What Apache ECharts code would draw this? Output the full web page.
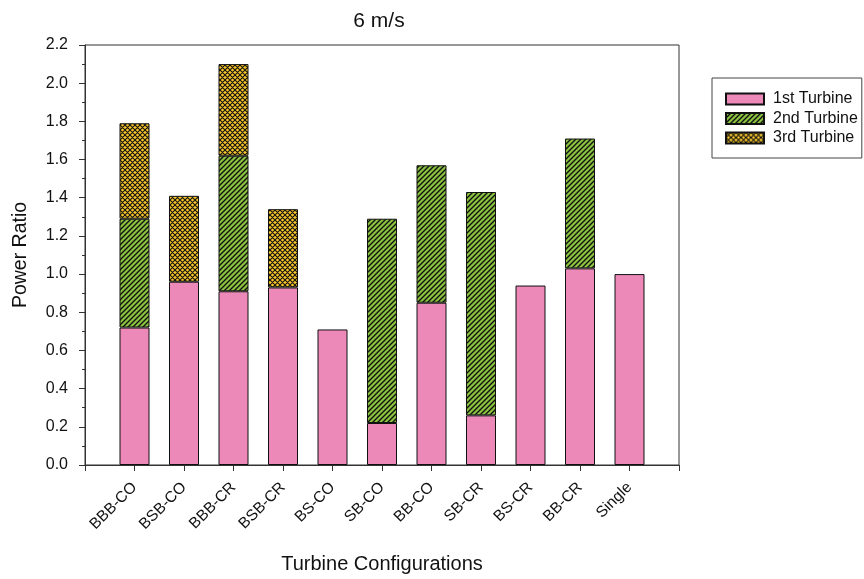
<!DOCTYPE html>
<html>
<head>
<meta charset="utf-8">
<script src="https://cdn.jsdelivr.net/npm/echarts@6/dist/echarts.min.js"></script>
<style>
html,body{margin:0;padding:0;background:#fff;}
#main{width:864px;height:579px;}
</style>
</head>
<body>
<div id="main"></div>
<script>
// ---- data ----
var categories = ['BBB-CO','BSB-CO','BBB-CR','BSB-CR','BS-CO','SB-CO','BB-CO','SB-CR','BS-CR','BB-CR','Single'];
var firstTurbine  = [0.72, 0.96, 0.91, 0.93, 0.71, 0.22, 0.85, 0.26, 0.94, 1.03, 1.00];
var secondTurbine = [0.57, null, 0.71, null, null, 1.07, 0.72, 1.17, null, 0.68, null];
var thirdTurbine  = [0.50, 0.45, 0.48, 0.41, null, null, null, null, null, null, null];
var yTicks = [0.0, 0.2, 0.4, 0.6, 0.8, 1.0, 1.2, 1.4, 1.6, 1.8, 2.0, 2.2];
var seriesNames = ['1st Turbine', '2nd Turbine', '3rd Turbine'];

// pad with empty slots at both ends (axis spans one slot beyond first/last bar)
function pad(arr){ return [null].concat(arr).concat([null]); }
var xCats = [''].concat(categories).concat(['']);

function hatchPattern(){
  var s = 5, c = document.createElement('canvas');
  c.width = s; c.height = s;
  var g = c.getContext('2d');
  g.fillStyle = '#8cc43f'; g.fillRect(0,0,s,s);
  g.strokeStyle = '#111'; g.lineWidth = 1.4;
  g.beginPath();
  g.moveTo(-1, s+1); g.lineTo(s+1, -1);
  g.moveTo(-1, 1); g.lineTo(1, -1);
  g.moveTo(s-1, s+1); g.lineTo(s+1, s-1);
  g.stroke();
  return c;
}
function crossPattern(){
  var s = 5, c = document.createElement('canvas');
  c.width = s; c.height = s;
  var g = c.getContext('2d');
  g.fillStyle = '#f9c62a'; g.fillRect(0,0,s,s);
  g.strokeStyle = '#111'; g.lineWidth = 1.1;
  g.beginPath();
  g.moveTo(-1, s+1); g.lineTo(s+1, -1);
  g.moveTo(-1, -1); g.lineTo(s+1, s+1);
  g.moveTo(-1, 1); g.lineTo(1, -1);
  g.moveTo(s-1, s+1); g.lineTo(s+1, s-1);
  g.moveTo(s-1, -1); g.lineTo(s+1, 1);
  g.moveTo(-1, s-1); g.lineTo(1, s+1);
  g.stroke();
  return c;
}

var FONT = '"Liberation Sans", Arial, sans-serif';
var chart = echarts.init(document.getElementById('main'), null, {renderer:'canvas'});
var barStyle = function(color){ return {color: color, borderColor:'#111', borderWidth:1}; };

chart.setOption({
  animation: false,
  backgroundColor: '#fff',
  title: {
    text: '6 m/s', left: 374, top: 6, textAlign: 'center',
    textStyle: {fontFamily: FONT, fontSize: 21, fontWeight: 'normal', color: '#111'}
  },
  legend: {
    orient: 'vertical', left: 712, top: 78,
    padding: [13, 4, 12, 13],
    borderColor: '#444', borderWidth: 1,
    itemWidth: 38, itemHeight: 11, itemGap: 3.5,
    icon: 'rect',
    textStyle: {fontFamily: FONT, fontSize: 16, color: '#111', padding: [0,0,0,4]},
    data: seriesNames
  },
  grid: {left: 85, right: 185, top: 45, bottom: 114, show: true, borderColor: '#333', borderWidth: 1, backgroundColor:'transparent'},
  xAxis: {
    type: 'category', data: xCats, boundaryGap: false,
    axisLine: {lineStyle: {color: '#333', width: 1}},
    axisTick: {show: true, interval: 0, length: 6, inside: false, lineStyle:{color:'#333'}},
    axisLabel: {interval: 0, rotate: 45, margin: 20, fontFamily: FONT, fontSize: 15.5, color: '#111'},
    name: 'Turbine Configurations', nameLocation: 'middle', nameGap: 89,
    nameTextStyle: {fontFamily: FONT, fontSize: 20, color: '#111'},
    splitLine: {show: false}
  },
  yAxis: {
    type: 'value', min: yTicks[0], max: yTicks[yTicks.length-1], interval: 0.2,
    axisLine: {show: true, lineStyle: {color: '#333', width: 1}},
    axisTick: {show: true, length: 6, lineStyle:{color:'#333'}},
    minorTick: {show: true, splitNumber: 2, length: 3, lineStyle:{color:'#333'}},
    axisLabel: {margin: 17, fontFamily: FONT, fontSize: 16, color: '#111', formatter: function(v){ return v.toFixed(1); }},
    splitLine: {show: false},
    name: 'Power Ratio', nameLocation: 'middle', nameGap: 54, nameRotate: 90,
    nameTextStyle: {fontFamily: FONT, fontSize: 19.5, color: '#111'}
  },
  series: [
    {name: seriesNames[0], type: 'bar', stack: 'total', barWidth: 30, data: pad(firstTurbine), itemStyle: barStyle('#ec89b9')},
    {name: seriesNames[1], type: 'bar', stack: 'total', barWidth: 30, data: pad(secondTurbine), itemStyle: barStyle({image: hatchPattern(), repeat: 'repeat'})},
    {name: seriesNames[2], type: 'bar', stack: 'total', barWidth: 30, data: pad(thirdTurbine), itemStyle: barStyle({image: crossPattern(), repeat: 'repeat'})}
  ]
});
</script>
</body>
</html>
